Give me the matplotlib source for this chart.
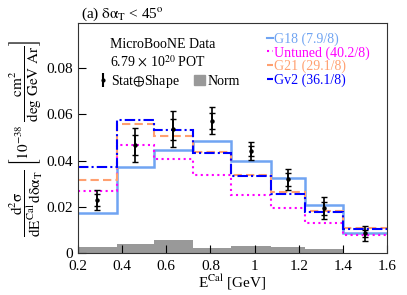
import matplotlib
matplotlib.use('Agg')
import matplotlib.pyplot as plt
import numpy as np
from matplotlib.patches import Patch
from matplotlib.lines import Line2D

plt.rcParams['font.family'] = ['Liberation Serif', 'DejaVu Serif']
plt.rcParams['mathtext.fontset'] = 'stix'

# Данные
edges = [0.2, 0.375, 0.545, 0.72, 0.895, 1.075, 1.23, 1.4, 1.6]
data = [0.0229, 0.0467, 0.0536, 0.0572, 0.0442, 0.0318, 0.0194, 0.0085]
err_tot = [0.0042, 0.0072, 0.0078, 0.0058, 0.0040, 0.0046, 0.0049, 0.0031]
err_stat = [0.0025, 0.0045, 0.0045, 0.0035, 0.0022, 0.0027, 0.0028, 0.0016]
norm = [0.0026, 0.0039, 0.0055, 0.0020, 0.0030, 0.0026, 0.0017, 0.0]

g18 = [0.0171, 0.0370, 0.0446, 0.0485, 0.0400, 0.0324, 0.0207, 0.0088]
untuned = [0.0268, 0.0467, 0.0405, 0.0337, 0.0250, 0.0193, 0.0128, 0.0078]
g21 = [0.0317, 0.0556, 0.0505, 0.0435, 0.0336, 0.0265, 0.0181, 0.0107]
gv2 = [0.0370, 0.0576, 0.0534, 0.0433, 0.0334, 0.0256, 0.0178, 0.0104]

labels = ['G18 (7.9/8)', 'Untuned (40.2/8)', 'G21 (29.1/8)', 'Gv2 (36.1/8)']
colors = ['#70a4f2', '#ff00ff', '#ffa070', '#0000ff']
styles = ['-', ':', (0, (4, 2)), (0, (5, 1.5, 1, 1.5))]

centers = [(edges[i] + edges[i + 1]) / 2 for i in range(len(data))]

fig = plt.figure(figsize=(4.07, 2.95), dpi=100)
ax = fig.add_axes([0.1916, 0.1424, 0.7594, 0.7796])

ax.stairs(norm, edges, fill=True, color='#999999', linewidth=0)

for vals, c, ls in zip([g18, untuned, g21, gv2], colors, styles):
    lw = 1.8 if ls == '-' else 1.5
    ax.stairs(vals, edges, color=c, linestyle=ls, linewidth=lw, baseline=None)

ax.errorbar(centers, data, yerr=err_tot, fmt='none', ecolor='black',
            elinewidth=1.2, capsize=2.5, capthick=1.0)
ax.errorbar(centers, data, yerr=err_stat, fmt='o', color='black', ms=2.2,
            elinewidth=1.2, capsize=2.0, capthick=1.0)

ax.set_xlim(0.2, 1.6)
ax.set_ylim(0, 0.0995)
ax.set_xticks(np.arange(0.2, 1.61, 0.2))
ax.set_xticklabels(['0.2', '0.4', '0.6', '0.8', '1', '1.2', '1.4', '1.6'])
ax.set_yticks([0, 0.02, 0.04, 0.06, 0.08])
ax.set_yticklabels(['0', '0.02', '0.04', '0.06', '0.08'])
ax.tick_params(direction='in', length=6, labelsize=11, width=0.8)
ax.tick_params(axis='x', pad=5)
for s in ax.spines.values():
    s.set_color('#333333')

ax.set_xlabel(r'E$^{\rm Cal}$ [GeV]', fontsize=11, labelpad=0)
ax.set_ylabel(r'$\dfrac{\rm d^2\sigma}{\rm dE^{Cal}\, d\delta\alpha_T}\ \left[10^{-38}\ \dfrac{\rm cm^2}{\rm deg\ GeV\ Ar}\right]$',
              fontsize=11, labelpad=1)
ax.set_title(r'(a) $\rm\delta\alpha_T$ < 45$^{\rm o}$', loc='left', fontsize=11,
             pad=4, x=0.01)

# Легенды
ax.text(0.105, 0.893, 'MicroBooNE Data', transform=ax.transAxes, fontsize=10)
ax.text(0.105, 0.81, r'6.79 $\times$ 10$^{20}$ POT', transform=ax.transAxes, fontsize=10)

eb = ax.errorbar([], [], yerr=[], fmt='o', color='black', ms=2, capsize=2)
leg1 = ax.legend([eb, Patch(color='#999999')], [r'Stat$\oplus$Shape', 'Norm'],
                 ncol=2, loc='upper left', bbox_to_anchor=(0.04, 0.815),
                 frameon=False, fontsize=10, handlelength=0.8,
                 handletextpad=0.2, columnspacing=1.0, borderpad=0)
ax.add_artist(leg1)

hs = [Line2D([], [], color=c, linestyle=ls, linewidth=1.5) for c, ls in zip(colors, styles)]
leg2 = ax.legend(hs, labels, loc='upper left', bbox_to_anchor=(0.59, 0.99),
                 frameon=False, fontsize=10, handlelength=0.4,
                 handletextpad=0.1, labelspacing=0.02, borderpad=0,
                 labelcolor='linecolor')

plt.savefig('out.png', dpi=100, facecolor='white')
